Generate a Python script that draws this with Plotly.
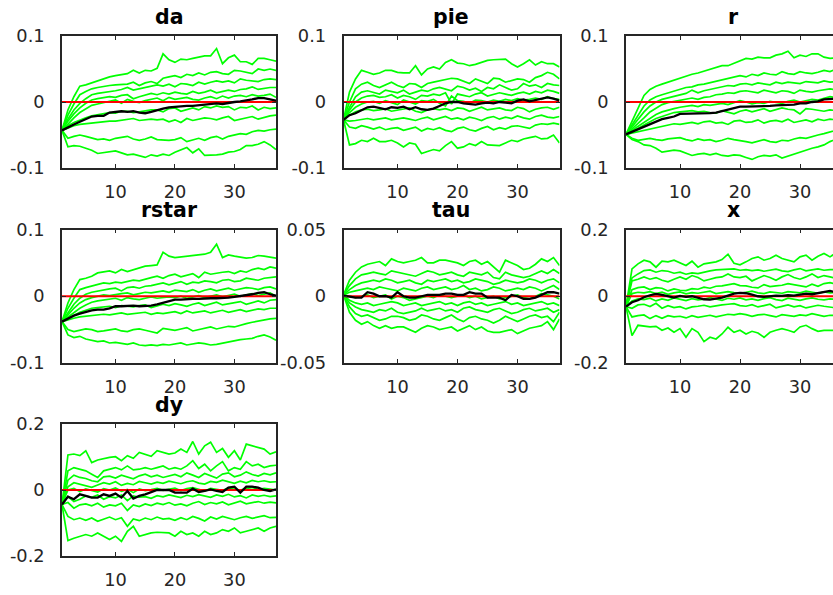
import plotly.graph_objects as go

# horizon (periods)
periods = list(range(1, 38))

# All series below are in units of 0.001
da_bands = [
    [-43,-12,8,24,26,29,33,36,38,40, 41,43,48,44,48,47,51,73,64,60, 65,64,66,68,70,70,81,58,67,71, 61,61,57,66,66,64,62],
    [-43,-20,-3,11,16,20,22,24,25,26, 26,27,30,25,29,31,28,36,38,40, 37,42,40,44,41,45,46,43,42,48, 47,45,43,50,48,50,48],
    [-43,-26,-12,-2,5,11,13,14,16,17, 19,22,18,20,22,23,26,24,27,23, 28,27,25,30,27,30,32,30,32,29, 35,33,32,31,34,35,34],
    [-43,-29,-18,-9,-2,3,5,6,8,7, 10,11,5,8,10,13,11,14,12,15, 13,12,16,13,15,18,14,16,18,16, 19,20,23,19,21,22,22],
    [-43,-33,-24,-16,-10,-5,-3,-1,0,3, -2,4,1,-1,2,4,6,2,7,4, 5,7,4,3,6,8,5,9,6,9, 10,8,11,9,10,12,7],
    [-43,-36,-31,-27,-24,-21,-19,-17,-16,-17, -14,-14,-16,-15,-13,-12,-12,-15,-10,-9, -14,-11,-9,-12,-7,-9,-6,-8,-7,-12, -8,-9,-6,-12,-8,-10,-9],
    [-43,-39,-36,-34,-33,-31,-30,-30,-29,-29, -28,-27,-25,-28,-27,-26,-27,-26,-30,-27, -31,-25,-28,-26,-24,-25,-27,-24,-22,-28, -26,-24,-22,-26,-23,-21,-20],
    [-43,-55,-52,-50,-52,-55,-57,-56,-58,-55, -54,-52,-56,-58,-56,-53,-57,-58,-58,-57, -54,-60,-57,-55,-58,-54,-52,-56,-52,-50, -48,-49,-45,-43,-44,-42,-41],
    [-43,-68,-66,-67,-70,-73,-78,-77,-75,-74, -77,-80,-79,-81,-84,-80,-82,-79,-81,-76, -73,-69,-77,-71,-81,-81,-80,-79,-76,-75, -72,-66,-66,-64,-60,-65,-72],
]
da_median = [-43,-38,-34,-30,-26,-22,-21,-21,-16,-15, -14,-15,-14,-16,-17,-15,-12,-10,-8,-7, -7,-6,-6,-5,-5,-3,-2,-3,-1,0, 1,2,4,6,6,4,2]

pie_bands = [
    [-27,15,35,48,45,42,44,48,48,45, 44,44,55,41,50,53,50,60,64,59, 58,55,57,60,63,64,65,65,58,53, 58,64,56,61,58,58,53],
    [-27,0,20,27,30,25,22,26,30,25, 22,28,27,22,28,30,32,35,36,35, 32,28,35,32,28,36,35,30,32,35, 34,30,37,40,45,42,35],
    [-27,-8,8,15,17,15,12,18,16,14, 18,12,15,18,16,20,22,20,17,24, 22,18,21,16,22,20,26,22,18,20, 28,24,26,22,28,26,25],
    [-27,-12,0,6,9,10,7,8,11,6, 10,8,4,10,9,12,10,14,-3,12, 10,8,12,14,9,11,14,12,10,13, 15,12,16,14,18,16,13],
    [-27,-16,-8,-3,0,1,-2,2,-1,-4, 3,0,-3,2,1,4,-2,-6,9,2, 1,-2,3,2,0,3,1,4,2,5, 3,4,6,4,8,5,4],
    [-27,-20,-15,-12,-11,-13,-12,-10,-14,-12, -11,-9,-14,-16,-12,-10,-12,-10,-13,-9, -10,-14,-11,-8,-12,-10,-9,-12,-13,-8, -10,-15,-11,-9,-8,-11,-8],
    [-27,-29,-28,-26,-25,-27,-26,-24,-27,-25, -24,-26,-28,-25,-23,-27,-25,-22,-26,-24, -27,-23,-25,-28,-24,-22,-26,-23,-25,-21, -24,-26,-22,-20,-23,-24,-22],
    [-27,-38,-40,-36,-38,-41,-38,-42,-40,-39, -43,-41,-38,-44,-40,-42,-39,-43,-45,-40, -38,-42,-44,-40,-37,-42,-39,-41,-37,-36, -38,-40,-35,-33,-34,-32,-34],
    [-27,-65,-63,-58,-60,-55,-60,-60,-58,-62, -68,-62,-64,-78,-75,-72,-74,-66,-60,-70, -68,-63,-66,-60,-65,-66,-66,-62,-58,-60, -56,-54,-52,-56,-55,-50,-62],
]
pie_median = [-27,-20,-17,-12,-8,-7,-9,-11,-8,-9, -7,-11,-8,-11,-12,-10,-6,-2,0,0, -2,-3,-4,-2,-1,-2,0,-1,-2,2, 4,1,3,6,7,5,2]

r_bands = [
    [-49,-30,-10,10,19,24,27,30,34,36, 39,42,44,47,49,52,55,55,59,62, 66,65,68,67,67,71,73,77,67,71, 69,73,73,68,66,67,66],
    [-49,-35,-20,-6,3,8,11,14,17,20, 22,23,26,27,29,31,34,36,37,40, 38,42,40,44,42,41,46,43,42,46, 44,43,45,48,46,50,49],
    [-49,-38,-27,-15,-6,0,4,6,9,11, 13,18,14,17,19,21,22,25,24,27, 28,26,29,27,26,30,28,30,29,28, 31,30,29,32,30,31,30],
    [-49,-41,-32,-24,-15,-9,-4,-1,1,3, 5,6,4,7,8,11,12,14,13,16, 17,15,14,18,16,14,17,16,13,18, 16,15,17,19,20,18,19],
    [-49,-43,-37,-31,-25,-19,-15,-12,-10,-8, -6,-5,-7,-4,-5,-3,-2,-4,-1,2, 0,-3,-1,-2,1,0,-2,1,3,0, 2,4,3,6,8,7,8],
    [-49,-45,-40,-35,-30,-25,-22,-19,-16,-15, -14,-13,-15,-14,-16,-17,-13,-15,-18,-14, -12,-15,-13,-10,-14,-12,-9,-11,-12,-18, -10,-11,-13,-14,-12,-13,-14],
    [-49,-47,-45,-43,-40,-38,-36,-35,-33,-34, -32,-31,-33,-30,-29,-32,-31,-34,-29,-28, -31,-30,-27,-32,-29,-28,-30,-26,-31,-29, -27,-30,-26,-28,-26,-27,-25],
    [-49,-55,-58,-56,-55,-57,-58,-56,-55,-54, -57,-59,-56,-58,-57,-60,-58,-55,-57,-58, -60,-62,-59,-57,-60,-61,-58,-59,-56,-54, -55,-52,-50,-48,-45,-43,-40],
    [-49,-57,-60,-65,-66,-70,-76,-74,-73,-74, -77,-81,-79,-78,-80,-78,-81,-82,-80,-81, -84,-87,-83,-81,-82,-80,-85,-82,-78,-76, -72,-70,-68,-65,-60,-57,-53],
]
r_median = [-49,-45,-41,-37,-33,-29,-26,-24,-22,-18, -18,-18,-17,-17,-17,-16,-14,-12,-10,-7, -7,-7,-6,-6,-6,-5,-5,-4,-4,-2, -2,0,1,4,5,5,4]

rstar_bands = [
    [-38,-10,10,25,27,30,35,36,38,35, 40,37,40,42,45,46,47,66,60,58, 59,60,61,62,63,66,78,58,62,60, 58,57,58,61,60,59,57],
    [-38,-18,-3,10,13,15,17,20,19,21, 20,22,24,23,26,28,30,27,31,33, 29,32,34,28,36,33,35,36,37,34, 38,36,40,42,40,44,42],
    [-38,-24,-12,-3,3,6,8,9,11,12, 8,13,14,12,15,16,18,20,17,19, 22,18,21,20,23,22,20,24,25,22, 23,27,26,24,27,28,29],
    [-38,-28,-18,-10,-5,-2,0,2,1,3, 4,5,2,4,6,5,7,8,6,9, 8,7,10,6,9,11,8,10,12,9, 11,13,12,10,13,14,11],
    [-38,-31,-24,-18,-13,-9,-7,-6,-5,-3, -6,-2,-4,-5,-3,-1,-3,-2,-1,-2, 0,-3,-1,1,-2,0,2,-1,1,3, 0,2,4,1,3,5,0],
    [-38,-33,-28,-24,-21,-18,-17,-16,-15,-17, -14,-15,-16,-14,-13,-17,-15,-12,-14,-11, -13,-15,-12,-10,-14,-12,-9,-13,-11,-10, -8,-12,-9,-7,-10,-6,-5],
    [-38,-35,-33,-31,-30,-29,-28,-27,-28,-26, -25,-27,-26,-25,-24,-27,-25,-26,-24,-23, -26,-22,-25,-24,-22,-25,-23,-21,-24,-22, -20,-23,-21,-19,-20,-18,-18],
    [-38,-50,-53,-51,-49,-50,-53,-52,-50,-49, -52,-53,-50,-49,-51,-53,-55,-48,-50,-51, -49,-47,-52,-50,-48,-46,-49,-47,-45,-46, -43,-41,-39,-37,-35,-34,-33],
    [-38,-58,-62,-60,-64,-66,-68,-67,-70,-69, -71,-72,-70,-73,-74,-73,-74,-72,-73,-71, -70,-73,-72,-70,-71,-73,-72,-70,-69,-67, -65,-64,-63,-60,-58,-61,-66],
]
rstar_median = [-38,-33,-29,-26,-23,-21,-20,-20,-18,-15, -15,-14,-14,-15,-15,-14,-12,-10,-8,-5, -5,-4,-4,-4,-3,-3,-3,-3,-2,-1, 0,1,3,5,6,3,1]

tau_bands = [
    [1,12,18,22,24,25,26,23,28,26, 25,26,27,29,25,25,27,27,26,25, 23,26,27,24,26,22,18,27,25,23, 20,21,24,28,26,29,23],
    [1,8,13,16,17,18,17,16,19,18, 17,16,15,17,19,18,16,17,18,16, 15,18,17,16,18,14,13,18,16,15, 14,15,17,19,17,20,17],
    [1,5,8,10,11,12,11,13,12,10, 11,12,10,9,12,11,12,13,11,12, 10,11,13,12,11,9,10,12,11,10, 11,13,12,10,12,13,10],
    [1,3,4,5,6,5,7,6,5,4, 6,5,4,6,7,5,6,7,5,6, 8,5,6,4,5,7,6,4,5,6, 5,7,6,4,6,8,5],
    [1,0,-1,0,1,-1,0,1,-2,0, -1,-3,-2,-1,0,-1,1,0,-1,0, 1,-1,0,-2,-1,0,-2,-1,0,1, -1,-2,0,2,1,0,-2],
    [1,-3,-5,-6,-5,-7,-6,-5,-4,-5, -7,-6,-5,-7,-6,-5,-4,-6,-5,-7, -5,-4,-6,-5,-7,-6,-5,-4,-6,-5, -7,-6,-5,-4,-6,-5,-7],
    [1,-5,-8,-10,-11,-12,-10,-11,-9,-12, -13,-12,-11,-9,-11,-10,-9,-11,-10,-12, -9,-8,-10,-11,-12,-10,-9,-11,-13,-12, -10,-9,-11,-10,-9,-12,-10],
    [1,-8,-13,-15,-14,-16,-18,-17,-15,-15, -16,-18,-17,-14,-15,-17,-18,-16,-14,-17, -19,-16,-15,-17,-18,-20,-18,-15,-17,-19, -17,-15,-14,-16,-15,-19,-12],
    [1,-12,-18,-21,-19,-22,-24,-22,-24,-23, -23,-25,-27,-24,-22,-23,-25,-24,-23,-26, -24,-22,-25,-23,-26,-27,-27,-26,-25,-28, -26,-24,-23,-22,-19,-25,-17],
]
tau_median = [0.5,-0.5,-1,-1,3,2,0,0,-1,3, 0,-1,-1,0,1,1,1,2,2,1, 1,3,2,2,-1,-1,-1,-3,1,0, -2,-2,-1,1,3,3,2]

x_bands = [
    [-31,82,97,108,103,87,105,103,108,99, 92,105,87,97,99,103,110,126,99,94, 103,113,118,108,113,123,113,108,103,118, 123,108,120,128,118,130,128],
    [-31,55,67,77,79,72,77,75,69,72, 66,70,68,73,76,79,80,81,82,78, 80,77,79,75,78,81,76,74,79,83, 76,80,82,78,80,79,79],
    [-31,46,51,58,51,56,48,43,51,58, 51,62,56,46,51,56,58,67,58,56, 60,46,54,62,56,48,58,65,56,51, 58,67,56,62,58,54,54],
    [-31,20,26,28,20,26,24,16,22,18, 17,23,21,27,24,30,31,34,38,32, 31,27,25,35,29,31,33,38,34,31, 28,36,30,38,41,36,34],
    [-31,8,12,10,14,8,12,6,10,13, 7,11,9,12,15,8,10,14,11,9, 12,15,10,8,13,11,9,14,12,10, 15,11,9,13,10,11,10],
    [-31,-14,-8,-10,-6,-14,-8,-12,-5,-10, -13,-7,-11,-9,-4,-8,-12,-6,-9,-5, -11,-8,-12,-7,-4,-10,-13,-6,-9,-12, -8,-5,-9,-11,-8,-10,-10],
    [-31,-36,-26,-24,-31,-21,-36,-28,-34,-31, -38,-32,-30,-27,-32,-28,-26,-24,-22,-28, -30,-25,-32,-28,-24,-35,-30,-26,-32,-28, -35,-31,-27,-30,-33,-35,-34],
    [-31,-62,-58,-56,-67,-58,-66,-58,-62,-60, -65,-58,-63,-60,-57,-62,-59,-54,-56,-52, -55,-60,-56,-54,-58,-62,-55,-57,-60,-56, -58,-52,-55,-60,-57,-58,-58],
    [-31,-118,-87,-89,-92,-90,-102,-95,-108,-97, -123,-97,-108,-136,-123,-128,-113,-93,-108,-102, -113,-105,-110,-123,-108,-102,-97,-102,-108,-92, -87,-97,-105,-102,-102,-103,-103],
]
x_median = [-31,-18,-12,-3,3,7,4,0,-4,1, -2,0,-5,-9,-10,-8,-4,2,8,10, 9,5,0,-2,0,2,1,3,2,5, 8,6,10,14,16,12,8]

dy_bands = [
    [-44,106,109,104,119,83,91,96,99,101, 89,104,96,114,109,102,119,114,109,112, 124,114,147,109,134,145,114,126,99,119, 91,139,134,129,124,109,116],
    [-44,58,68,63,58,48,38,58,63,68, 61,73,61,63,68,63,68,73,63,68, 63,73,89,65,78,58,73,86,58,68, 63,86,73,78,68,73,75],
    [-44,30,45,38,35,28,25,40,42,36, 45,40,34,43,48,40,45,38,42,47, 40,52,45,38,50,43,36,48,52,40, 45,55,47,42,50,46,52],
    [-44,10,22,18,12,8,15,22,18,25, 14,20,16,26,22,18,24,20,27,22, 19,25,28,21,18,26,23,30,24,20, 27,22,29,25,28,24,25],
    [-44,0,5,-5,3,-2,-6,4,0,6, -4,2,-8,3,-2,1,5,-1,3,6, -2,4,7,1,-3,5,2,-1,6,3, 0,4,8,2,5,3,0],
    [-44,-20,-35,-28,-18,-22,-15,-28,-20,-24, -15,-32,-18,-22,-20,-25,-17,-21,-15,-19, -23,-16,-20,-14,-18,-22,-15,-19,-13,-21, -17,-24,-15,-19,-16,-20,-18],
    [-44,-38,-55,-45,-42,-48,-40,-52,-45,-48, -40,-62,-45,-50,-42,-47,-40,-44,-38,-46, -42,-48,-40,-35,-44,-38,-42,-36,-45,-40, -34,-42,-38,-35,-40,-37,-39],
    [-44,-80,-90,-85,-92,-85,-95,-88,-82,-90, -84,-110,-88,-93,-85,-90,-82,-88,-86,-92, -84,-90,-80,-86,-94,-82,-88,-80,-85,-90, -84,-80,-86,-82,-78,-84,-83],
    [-44,-153,-146,-140,-135,-140,-130,-140,-150,-140, -156,-125,-110,-140,-135,-130,-128,-130,-130,-140, -125,-135,-130,-140,-125,-135,-130,-120,-125,-115, -130,-125,-120,-115,-125,-115,-110],
]
dy_median = [-44,-20,-28,-13,-18,-23,-23,-13,-18,-11, -23,-3,-26,-18,-13,-6,0,0,0,-8, -8,-8,4,-6,-3,2,-3,-6,7,10, -8,10,10,7,0,-3,2]

x_tickvals = [10, 20, 30]
y_ticks_01 = ([-0.1, 0, 0.1], ["-0.1", "0", "0.1"])
y_ticks_005 = ([-0.05, 0, 0.05], ["-0.05", "0", "0.05"])
y_ticks_02 = ([-0.2, 0, 0.2], ["-0.2", "0", "0.2"])

panels = [
    ("da", da_bands, da_median, y_ticks_01),
    ("pie", pie_bands, pie_median, y_ticks_01),
    ("r", r_bands, r_median, y_ticks_01),
    ("rstar", rstar_bands, rstar_median, y_ticks_01),
    ("tau", tau_bands, tau_median, y_ticks_005),
    ("x", x_bands, x_median, y_ticks_02),
    ("dy", dy_bands, dy_median, y_ticks_02),
]

W, H = 833, 595
col_px = [(62, 276), (343.5, 559.5), (626, 833)]
col_xmax = [37, 37, 35.5]
row_px = [(36, 168), (229.5, 363), (424, 556)]

AX = "#262626"
FONT = "DejaVu Sans"
fig = go.Figure()
annotations = []
for i, (name, bands, med, (yv, yt)) in enumerate(panels):
    n = i + 1
    r, c = divmod(i, 3)
    xa, ya = ("x" if n == 1 else f"x{n}"), ("y" if n == 1 else f"y{n}")
    for b in bands:
        assert len(b) == len(periods)
        fig.add_trace(go.Scatter(x=periods, y=[v / 1000 for v in b], mode="lines",
                                 line=dict(color="#00ff00", width=1.7),
                                 xaxis=xa, yaxis=ya, showlegend=False, hoverinfo="skip"))
    fig.add_trace(go.Scatter(x=[periods[0], periods[-1]], y=[0, 0], mode="lines",
                             line=dict(color="#ff0000", width=2),
                             xaxis=xa, yaxis=ya, showlegend=False, hoverinfo="skip"))
    assert len(med) == len(periods)
    fig.add_trace(go.Scatter(x=periods, y=[v / 1000 for v in med], mode="lines",
                             line=dict(color="#000000", width=2.3),
                             xaxis=xa, yaxis=ya, showlegend=False, hoverinfo="skip"))
    x0, x1 = col_px[c]
    y0, y1 = row_px[r]
    xdom = [x0 / W, min(x1 / W, 1.0)]
    ydom = [1 - y1 / H, 1 - y0 / H]
    common = dict(showline=True, linecolor=AX, linewidth=1.6, ticks="inside", ticklen=4,
                  tickcolor=AX, tickwidth=1, showgrid=False, zeroline=False,
                  automargin=False,
                  tickfont=dict(family=FONT, size=17.8, color=AX))
    fig.layout[f"xaxis{n}"] = dict(domain=xdom, anchor=ya, range=[1, col_xmax[c]],
                                   tickvals=x_tickvals, mirror="ticks",
                                   ticklabelstandoff=7, **common)
    fig.layout[f"yaxis{n}"] = dict(domain=ydom, anchor=xa, range=[yv[0], yv[-1]],
                                   tickvals=yv, ticktext=yt,
                                   mirror=("ticks" if c < 2 else False),
                                   ticklabelstandoff=12, **common)
    annotations.append(dict(text=f"<b>{name}</b>", x=(x0 + 107) / W,
                            y=ydom[1], xref="paper", yref="paper", xanchor="center",
                            yanchor="bottom", yshift=5, showarrow=False,
                            font=dict(family=FONT, size=20.5, color="#000000")))

fig.update_layout(template="none", width=W, height=H,
                  margin=dict(l=0, r=0, t=0, b=0, pad=0, autoexpand=False),
                  paper_bgcolor="white", plot_bgcolor="white",
                  annotations=annotations)
fig.write_html("out.html")
